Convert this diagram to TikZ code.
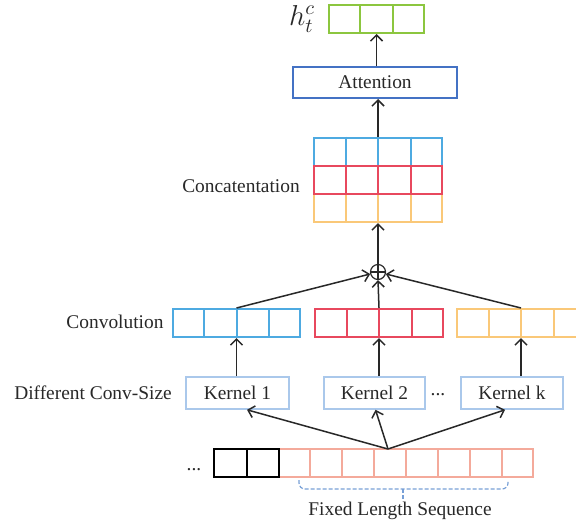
\documentclass[tikz,border=0pt]{standalone}
\usepackage{fontspec}
\setmainfont{Liberation Serif}
\usetikzlibrary{arrows.meta,calc}
\definecolor{cgreen}{RGB}{140,198,63}
\definecolor{catt}{RGB}{68,114,196}
\definecolor{csky}{RGB}{78,170,225}
\definecolor{cred}{RGB}{232,72,94}
\definecolor{corange}{RGB}{250,200,120}
\definecolor{ckern}{RGB}{170,200,235}
\definecolor{csalmon}{RGB}{244,170,155}
\definecolor{cbrace}{RGB}{120,160,215}
\definecolor{ctext}{RGB}{40,40,40}
\tikzset{
  cellrow/.style={draw, line width=1pt, inner sep=0pt, minimum height=14pt},
  kernbox/.style={draw=ckern, line width=0.8pt, inner sep=0pt, minimum height=16pt},
  lbl/.style={inner sep=0pt, text=ctext, font=\fontsize{9.7}{11}\selectfont},
  arr/.style={line width=0.75pt, draw=ctext, -{Straight Barb[length=3pt,width=6pt]}}
}
\newcommand{\celldiv}[3]{% node, number of cells, colour
  \foreach \k in {1,...,\numexpr#2-1\relax}{
    \draw[#3, line width=1pt] ($(#1.north west)!\k/#2!(#1.north east)$) -- ($(#1.south west)!\k/#2!(#1.south east)$);
  }
}
\begin{document}
\begin{tikzpicture}[x=0.5pt,y=-0.5pt, font=\fontsize{9.7}{11}\selectfont]
\clip (0,0) rectangle (576,526);
\fill[white] (0,0) rectangle (576,526);

% top output
\node[inner sep=0pt, text=ctext, font=\fontsize{14}{16}\selectfont] (hlab) at (302,19) {$h_t^c$};
\node[cellrow, draw=cgreen, minimum width=47.5pt] (green) at (376.5,19) {};
\celldiv{green}{3}{cgreen}

% attention
\node[draw=catt, line width=1pt, inner sep=0pt, text=ctext, minimum width=82pt, minimum height=15.5pt] (att) at (375,82.5) {Attention};

% concatenation grid
\node[cellrow, draw=csky, minimum width=64pt] (cat1) at (378,151.5) {};
\celldiv{cat1}{4}{csky}
\node[cellrow, draw=corange, minimum width=64pt] (cat3) at (378,208) {};
\celldiv{cat3}{4}{corange}
\node[cellrow, draw=cred, minimum width=64pt] (cat2) at (378,180) {};
\celldiv{cat2}{4}{cred}
\node[lbl] (catlab) at (241,186) {Concatentation};

% oplus
\node[draw=ctext, circle, line width=0.6pt, minimum size=7.5pt, inner sep=0pt] (oplus) at (378,272) {};
\draw[line width=0.6pt, ctext] (oplus.north) -- (oplus.south) (oplus.west) -- (oplus.east);

% convolution rows
\node[cellrow, draw=csky, minimum width=63.5pt] (conv1) at (236.5,323) {};
\celldiv{conv1}{4}{csky}
\node[cellrow, draw=cred, minimum width=64pt] (conv2) at (379,323) {};
\celldiv{conv2}{4}{cred}
\node[cellrow, draw=corange, minimum width=64pt] (conv3) at (521,323) {};
\celldiv{conv3}{4}{corange}
\node[lbl] (convlab) at (115,322) {Convolution};

% kernels
\node[kernbox, text=ctext, minimum width=51.5pt] (k1) at (237.5,393) {Kernel 1};
\node[kernbox, text=ctext, minimum width=50.5pt] (k2) at (374.5,393) {Kernel 2};
\node[kernbox, text=ctext, minimum width=51pt] (kk) at (512,393) {Kernel k};
\node[lbl] (kdots) at (438,395) {...};
\node[lbl] (difflab) at (93,393) {Different Conv-Size};

% input sequence
\node[lbl] (sdots) at (194,470) {...};
\node[cellrow, draw=csalmon, minimum width=127pt] (seq) at (406,463) {};
\celldiv{seq}{8}{csalmon}
\node[cellrow, draw=black, minimum width=32.5pt] (blk) at (246.5,463) {};
\celldiv{blk}{2}{black}
\coordinate (apex) at (388,449);

% brace
\coordinate (bl) at (299,480);
\coordinate (br) at (508,480);
\coordinate (bm) at (403,500);
\draw[cbrace, line width=0.6pt, dash pattern=on 2pt off 1pt, rounded corners=3pt] (bl) -- (bl |- 0,489) -- (br |- 0,489) -- (br);
\draw[cbrace, line width=0.6pt, dash pattern=on 2pt off 1pt] (bm |- 0,489) -- (bm);
\node[lbl] (fixlab) at (400,511) {Fixed Length Sequence};

% connectors
\draw[arr] (apex) -- ($(k1.south)+(9.5,0)$);
\draw[arr] (apex) -- ($(k2.south)+(1,0)$);
\draw[arr] (apex) -- ($(kk.south)+(-7,0)$);

\draw[arr] (conv1.south |- k1.north) -- (conv1.south);
\draw[arr] (conv2.south |- k2.north) -- (conv2.south);
\draw[arr] (conv3.south |- kk.north) -- (conv3.south);

\draw[arr] (conv1.north) -- (oplus);
\draw[arr] (conv2.north) -- (oplus.south);
\draw[arr] (conv3.north) -- (oplus);

\draw[arr] (oplus.north) -- (cat3.south);
\draw[arr] (cat1.north) -- (cat1.north |- att.south);
\draw[arr] (green.south |- att.north) -- (green.south);
\end{tikzpicture}
\end{document}
